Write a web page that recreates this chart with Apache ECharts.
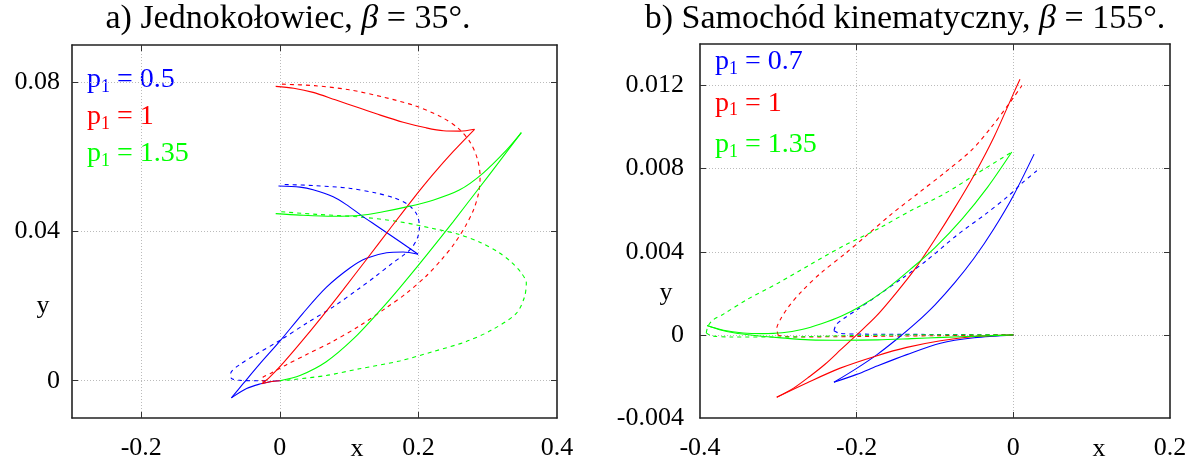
<!DOCTYPE html>
<html style="height: 100%">
<head>
    <meta charset="utf-8">
</head>
<body style="height: 100%; margin: 0; background: #fff">
<div id="container" style="width: 1198px; height: 463px"></div>
<script src="https://cdn.jsdelivr.net/npm/echarts@6.0.0/dist/echarts.min.js"></script>
<script type="text/javascript">
    // a) Jednokolowiec, beta = 35
    var aTicksX = [-0.2, 0, 0.2];
    var aLabelsX = [-0.2, 0, 0.2, 0.4];
    var aTicksY = [0, 0.04, 0.08];
    var aLabelsY = [0, 0.04, 0.08];
    var aP1 = ['0.5', '1', '1.35'];

    // kazda krzywa to lista odcinkow (podzial w punktach zwrotnych)
    var aBlueSolid = [
        [[0, 0], [-0.012, -0.0002], [-0.029, -0.0009], [-0.048, -0.0021], [-0.070, -0.0046]],
        [[-0.070, -0.0046], [-0.053, -0.0008], [-0.029, 0.0045], [0, 0.0106], [0.033, 0.0180], [0.067, 0.0250], [0.101, 0.0302], [0.125, 0.0328], [0.154, 0.0343], [0.178, 0.0345], [0.1995, 0.0339]],
        [[0.1995, 0.0339], [0.173, 0.0373], [0.139, 0.0416], [0.117, 0.0444], [0.096, 0.0472], [0.077, 0.0493], [0.048, 0.0512], [0.029, 0.0519], [-0.002, 0.0522]]
    ];
    var aBlueDashed = [
        [[0.007, 0.0526], [0.05, 0.0523], [0.10, 0.0516], [0.139, 0.0503], [0.165, 0.0490], [0.185, 0.0472], [0.197, 0.0448], [0.2015, 0.0415], [0.199, 0.0385], [0.190, 0.0355], [0.178, 0.0336], [0.163, 0.0316], [0.139, 0.0281], [0.115, 0.0248], [0.077, 0.0198], [0.0385, 0.0154], [0, 0.0108], [-0.034, 0.0071], [-0.058, 0.0043], [-0.071, 0.0019], [-0.070, 0.0006], [-0.058, 0.0001], [-0.04, 0], [-0.015, 0]]
    ];
    var aRedSolid = [
        [[-0.006, 0.0789], [0.02, 0.0784], [0.048, 0.0773], [0.08, 0.0753], [0.115, 0.0731], [0.145, 0.0712], [0.178, 0.0693], [0.211, 0.0678], [0.236, 0.0670], [0.260, 0.0669], [0.281, 0.0674]],
        [[0.281, 0.0674], [0.250, 0.0614], [0.221, 0.0553], [0.192, 0.0487], [0.160, 0.0410], [0.125, 0.0325], [0.091, 0.0243], [0.060, 0.0170], [0.030, 0.0102], [0.005, 0.0048], [-0.015, 0.0009], [-0.026, -0.0008]],
        [[-0.026, -0.0008], [-0.014, -0.0003], [0, 0]]
    ];
    var aRedDashed = [
        [[0.003, 0.0795], [0.05, 0.0791], [0.10, 0.0780], [0.15, 0.0760], [0.195, 0.0737], [0.232, 0.0708], [0.258, 0.0676], [0.275, 0.0638], [0.285, 0.0595], [0.289, 0.0548], [0.287, 0.0505], [0.280, 0.0460], [0.268, 0.0415], [0.252, 0.0368], [0.234, 0.0326], [0.211, 0.0280], [0.183, 0.0235], [0.154, 0.0196], [0.115, 0.0147], [0.077, 0.0106], [0.0385, 0.0070], [0.0096, 0.0043], [-0.013, 0.0020], [-0.024, 0.0010], [-0.027, 0.0002], [-0.022, -0.0002]]
    ];
    var aGreenSolid = [
        [[-0.006, 0.0448], [0.029, 0.0444], [0.077, 0.0441], [0.115, 0.0443], [0.149, 0.0453], [0.183, 0.0466], [0.221, 0.0484], [0.259, 0.0511], [0.293, 0.0556], [0.327, 0.0618], [0.3485, 0.0665]],
        [[0.3485, 0.0665], [0.317, 0.0588], [0.284, 0.0508], [0.25, 0.0426], [0.2115, 0.0336], [0.173, 0.0249], [0.144, 0.0187], [0.106, 0.0112], [0.067, 0.0051], [0.029, 0.0014], [0, 0]]
    ];
    var aGreenDashed = [
        [[0.002, 0.0453], [0.053, 0.0446], [0.115, 0.0439], [0.173, 0.0426], [0.221, 0.0408], [0.259, 0.0392], [0.29, 0.0370], [0.315, 0.0345], [0.334, 0.0318], [0.348, 0.0290], [0.3557, 0.0262], [0.353, 0.0224], [0.341, 0.0180], [0.305, 0.0135], [0.269, 0.0105], [0.221, 0.0078], [0.173, 0.0053], [0.115, 0.0032], [0.067, 0.0014], [0.019, 0.0003], [0, 0]]
    ];

    // b) Samochod kinematyczny, beta = 155
    var bTicksX = [-0.2, 0];
    var bLabelsX = [-0.4, -0.2, 0, 0.2];
    var bTicksY = [0, 0.004, 0.008, 0.012];
    var bLabelsY = [-0.004, 0, 0.004, 0.008, 0.012];
    var bP1 = ['0.7', '1', '1.35'];

    var bBlueSolid = [
        [[0, 0], [-0.05, -0.00014], [-0.093, -0.0004], [-0.136, -0.00095], [-0.174, -0.0015], [-0.200, -0.0019], [-0.229, -0.00228]],
        [[-0.229, -0.00228], [-0.1995, -0.0016], [-0.174, -0.00095], [-0.1485, -0.0002], [-0.125, 0.00055], [-0.1, 0.00145], [-0.075, 0.0025], [-0.05, 0.0037], [-0.025, 0.0051], [0, 0.0067], [0.0265, 0.0087]]
    ];
    var bBlueDashed = [
        [[0, 0], [-0.1, 0.00002], [-0.2, 0.00004], [-0.222, 0.00008], [-0.229, 0.0002]],
        [[-0.229, 0.0002], [-0.226, 0.0005], [-0.216, 0.0008], [-0.2, 0.0012], [-0.173, 0.0019], [-0.139, 0.0028], [-0.11, 0.0036], [-0.072, 0.0048], [-0.036, 0.0058], [-0.006, 0.0067], [0.011, 0.0073], [0.030, 0.0079]]
    ];
    var bRedSolid = [
        [[0, 0], [-0.05, -0.00008], [-0.093, -0.00028], [-0.136, -0.0006], [-0.174, -0.001], [-0.221, -0.0016], [-0.263, -0.0023], [-0.302, -0.003]],
        [[-0.302, -0.003], [-0.28, -0.00255], [-0.26, -0.0020], [-0.24, -0.0014], [-0.22, -0.0007], [-0.2, 0.0000], [-0.175, 0.0009], [-0.15, 0.0020], [-0.125, 0.0032], [-0.1, 0.0046], [-0.075, 0.0061], [-0.05, 0.0077], [-0.025, 0.0095], [0, 0.0116], [0.0085, 0.0123]]
    ];
    var bRedDashed = [
        [[0, 0], [-0.1, -0.00004], [-0.2, -0.00008], [-0.28, -0.0001], [-0.300, -0.00003]],
        [[-0.300, -0.00003], [-0.302, 0.0003], [-0.298, 0.0007], [-0.288, 0.0013], [-0.27, 0.0021], [-0.245, 0.0030], [-0.215, 0.0039], [-0.19, 0.0047], [-0.156, 0.0058], [-0.122, 0.0068], [-0.088, 0.0078], [-0.053, 0.0089], [-0.028, 0.0100], [-0.006, 0.0111], [0.011, 0.0120]]
    ];
    var bGreenSolid = [
        [[0, 0], [-0.045, -0.00006], [-0.09, -0.00012], [-0.13, -0.00018], [-0.173, -0.00024], [-0.216, -0.00026], [-0.26, -0.00024], [-0.30, -0.00013], [-0.33, -0.00003], [-0.357, 0.0001], [-0.375, 0.00025], [-0.391, 0.00045]],
        [[-0.391, 0.00045], [-0.37, 0.00022], [-0.345, 0.00009], [-0.32, 0.00006], [-0.295, 0.0001], [-0.27, 0.00026], [-0.245, 0.00054], [-0.22, 0.0009], [-0.195, 0.00138], [-0.165, 0.00212], [-0.13, 0.0032], [-0.1, 0.0042], [-0.065, 0.0056], [-0.033, 0.0071], [-0.002, 0.0088]]
    ];
    var bGreenDashed = [
        [[0, 0], [-0.1, 0.00001], [-0.2, -0.00003], [-0.3, -0.0001], [-0.36, -0.0001], [-0.385, -0.00005], [-0.392, 0.0001]],
        [[-0.392, 0.0001], [-0.390, 0.0004], [-0.384, 0.0007], [-0.37, 0.0010], [-0.34, 0.0017], [-0.30, 0.0025], [-0.2585, 0.0034], [-0.216, 0.0043], [-0.173, 0.0051], [-0.13, 0.0060], [-0.0876, 0.0068], [-0.045, 0.0078], [-0.002, 0.0088]]
    ];

    var BLUE = '#0000ff', RED = '#ff0000', GREEN = '#00ff00';
    var FONT = 'Liberation Serif';

    var dom = document.getElementById("container");
    var myChart = echarts.init(dom);

    function fmt(v) {
        return String(Math.round(v * 100000) / 100000);
    }

    function makeX(grid, min, max, ticks, labels, pos) {
        var main = pos === 'bottom';
        return {
            type: 'value', gridIndex: grid, min: min, max: max, position: pos,
            axisLine: { show: true, onZero: false, lineStyle: { color: '#222', width: 1.6 } },
            axisTick: { show: true, inside: true, length: 6, customValues: ticks, lineStyle: { color: '#333', width: 1 } },
            axisLabel: { show: main, customValues: labels, margin: 17, color: '#000', fontFamily: FONT, fontSize: 26, formatter: fmt },
            splitLine: { show: main, lineStyle: { color: '#bbb', width: 1, type: [1, 2] } }
        };
    }
    function makeY(grid, min, max, ticks, labels, pos, margin) {
        var main = pos === 'left';
        return {
            type: 'value', gridIndex: grid, min: min, max: max, position: pos,
            axisLine: { show: true, onZero: false, lineStyle: { color: '#222', width: 1.6 } },
            axisTick: { show: true, inside: true, length: 6, customValues: ticks, lineStyle: { color: '#333', width: 1 } },
            axisLabel: { show: main, customValues: labels, margin: margin, color: '#000', fontFamily: FONT, fontSize: 26, formatter: fmt },
            splitLine: { show: main, lineStyle: { color: '#bbb', width: 1, type: [1, 2] } }
        };
    }

    var series = [];
    function addCurves(segs, color, dashed, idx) {
        for (var i = 0; i < segs.length; i++) {
            series.push({
                type: 'line', xAxisIndex: idx, yAxisIndex: idx,
                data: segs[i], showSymbol: false, symbol: 'none',
                smooth: 0.3, silent: true,
                lineStyle: { color: color, width: 1.1, type: dashed ? [4, 4] : 'solid' }
            });
        }
    }
    addCurves(aBlueDashed, BLUE, true, 0);
    addCurves(aRedDashed, RED, true, 0);
    addCurves(aGreenDashed, GREEN, true, 0);
    addCurves(aBlueSolid, BLUE, false, 0);
    addCurves(aRedSolid, RED, false, 0);
    addCurves(aGreenSolid, GREEN, false, 0);
    addCurves(bBlueDashed, BLUE, true, 2);
    addCurves(bRedDashed, RED, true, 2);
    addCurves(bGreenDashed, GREEN, true, 2);
    addCurves(bBlueSolid, BLUE, false, 2);
    addCurves(bRedSolid, RED, false, 2);
    addCurves(bGreenSolid, GREEN, false, 2);

    function legendItem(x, y, val, color) {
        return {
            type: 'text', x: x, y: y, silent: true,
            style: {
                text: '{p|p}{s|1}{p| = ' + val + '}',
                align: 'left', verticalAlign: 'middle',
                rich: {
                    p: { fill: color, fontFamily: FONT, fontSize: 28, lineHeight: 32 },
                    s: { fill: color, fontFamily: FONT, fontSize: 18, lineHeight: 15, verticalAlign: 'bottom' }
                }
            }
        };
    }
    function plainText(x, y, txt) {
        return {
            type: 'text', x: x, y: y, silent: true,
            style: { text: txt, fill: '#000', fontFamily: FONT, fontSize: 26, align: 'center', verticalAlign: 'middle' }
        };
    }
    function titleText(x, y, pre, post) {
        return {
            type: 'text', x: x, y: y, silent: true,
            style: {
                text: '{r|' + pre + '}{i|β}{r|' + post + '}',
                align: 'center', verticalAlign: 'middle',
                rich: {
                    r: { fill: '#000', fontFamily: FONT, fontSize: 34 },
                    i: { fill: '#000', fontFamily: FONT, fontSize: 34, fontStyle: 'italic' }
                }
            }
        };
    }

    var colors = [BLUE, RED, GREEN];
    var graphics = [
        titleText(288, 19, 'a) Jednokołowiec, ', ' = 35°.'),
        titleText(905, 19, 'b) Samochód kinematyczny, ', ' = 155°.'),
        plainText(357, 449, 'x'),
        plainText(1099, 449, 'x'),
        plainText(43, 306, 'y'),
        plainText(666, 293, 'y')
    ];
    for (var k = 0; k < 3; k++) {
        graphics.push(legendItem(87, 80 + 37 * k, aP1[k], colors[k]));
        graphics.push(legendItem(715, 62 + 41.5 * k, bP1[k], colors[k]));
    }

    var option = {
        animation: false,
        backgroundColor: '#fff',
        grid: [
            { left: 72, top: 45, width: 485, height: 373, outerBoundsMode: 'none', containLabel: false },
            { left: 700, top: 44, width: 470, height: 374, outerBoundsMode: 'none', containLabel: false }
        ],
        xAxis: [
            makeX(0, -0.3, 0.4, aTicksX, aLabelsX, 'bottom'),
            makeX(0, -0.3, 0.4, aTicksX, aLabelsX, 'top'),
            makeX(1, -0.4, 0.2, bTicksX, bLabelsX, 'bottom'),
            makeX(1, -0.4, 0.2, bTicksX, bLabelsX, 'top')
        ],
        yAxis: [
            makeY(0, -0.01, 0.09, aTicksY, aLabelsY, 'left', 12),
            makeY(0, -0.01, 0.09, aTicksY, aLabelsY, 'right', 12),
            makeY(1, -0.004, 0.014, bTicksY, bLabelsY, 'left', 16),
            makeY(1, -0.004, 0.014, bTicksY, bLabelsY, 'right', 16)
        ],
        graphic: graphics,
        series: series
    };

    if (option && typeof option === "object") {
        myChart.setOption(option, true);
    }
</script>
</body>
</html>
